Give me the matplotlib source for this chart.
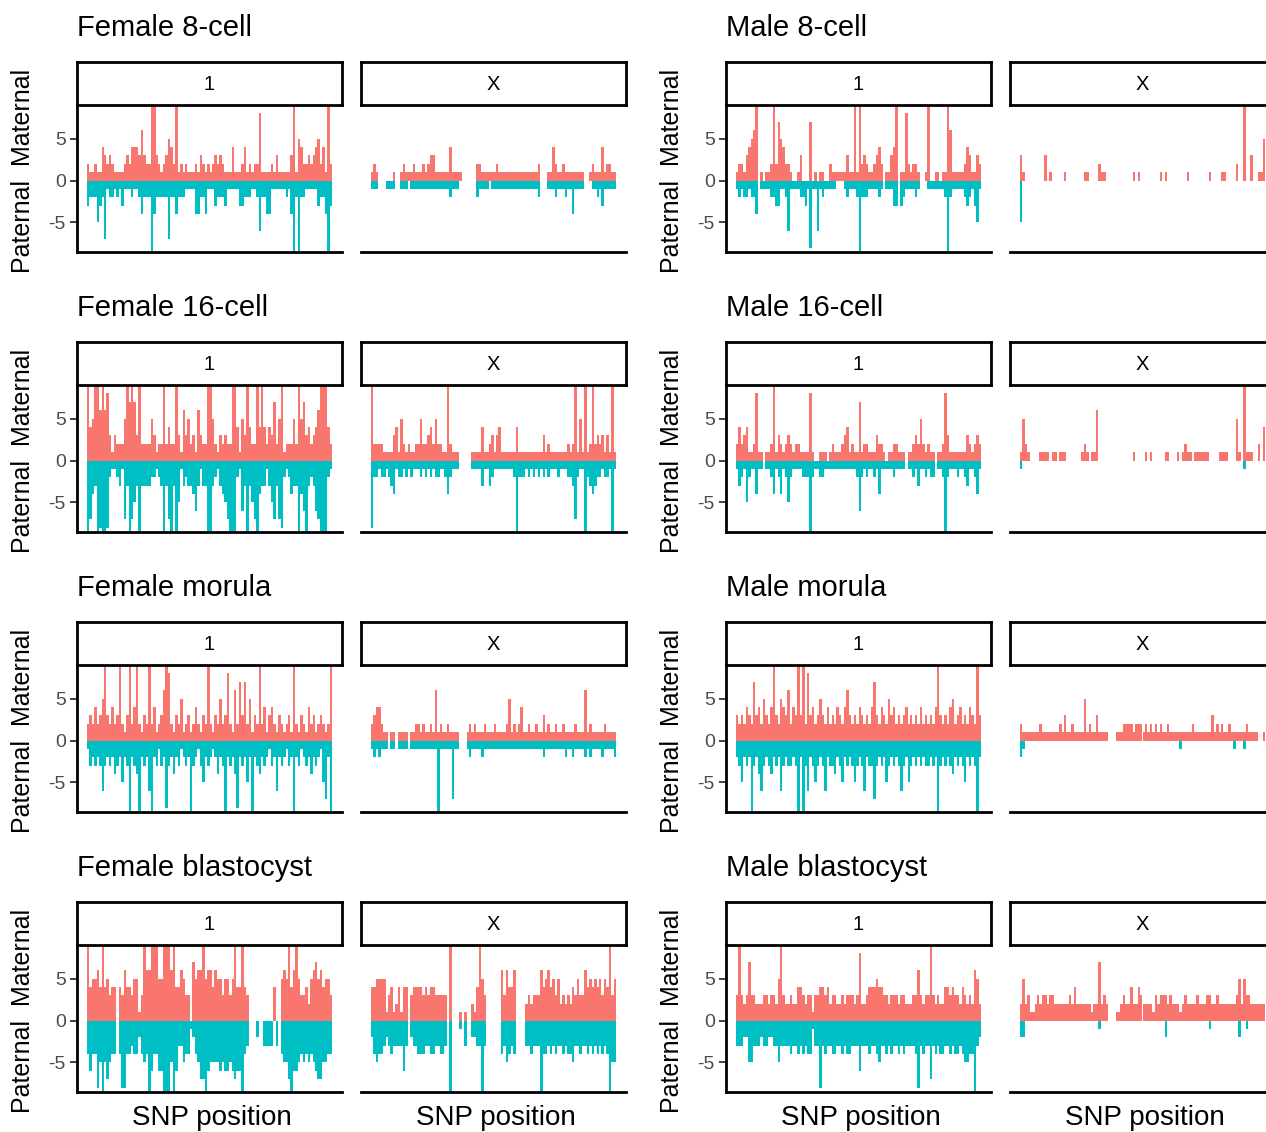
import matplotlib
matplotlib.use("Agg")
import matplotlib.pyplot as plt
import numpy as np

plt.rcParams['font.family'] = ['Liberation Sans', 'DejaVu Sans']

# ---------------- data (counts per SNP bin; 9 = off-scale) ----------------
f8_chr1_mat = [2,1,1,2,1,1,4,3,2,3, 2,1,1,1,1,2,3,2,4,4, 4,3,6,3,2,2,9,9,3,2, 1,2,3,5,4,2,9,1,2,1,
               2,1,1,1,2,1,3,2,1,2, 1,2,3,2,3,2,1,1,1,4, 1,1,1,2,4,1,2,1,2,2, 8,1,1,1,1,2,1,3,1,1,
               1,1,1,3,9,1,5,4,2,2, 3,2,3,4,5,2,4,1,9,2]
f8_chr1_pat = [3,2,2,2,5,3,2,7,1,2, 2,1,2,1,3,1,1,1,2,1, 1,2,4,2,2,2,9,4,2,2, 2,2,2,7,2,2,4,2,2,2,
               1,1,1,1,4,4,2,2,4,1, 1,1,3,2,2,2,3,1,1,1, 1,1,3,3,2,2,2,1,1,2, 6,2,2,4,4,1,1,1,1,1,
               1,2,1,4,9,2,9,2,2,1, 1,1,1,1,3,2,2,4,9,3]
f8_x_mat = [1,2,1,0,0,0,0,0,0,1, 0,0,1,2,1,1,1,2,1,1, 1,2,1,2,3,3,1,1,1,1, 1,1,4,1,1,1,1,0,0,0,
            0,0,0,2,2,1,1,1,1,1, 1,2,1,1,1,1,1,1,1,1, 1,1,1,1,1,1,1,1,2,0, 0,0,1,1,4,2,1,1,2,1,
            1,1,1,1,1,1,1,0,0,1, 2,1,1,1,4,1,2,2,1,1]
f8_x_pat = [1,1,1,0,0,0,1,1,1,1, 0,0,1,1,1,0,1,1,1,1, 1,1,1,1,1,1,1,1,1,1, 1,1,2,1,1,1,0,0,0,0,
            0,0,0,2,1,1,1,1,0,1, 1,1,1,1,1,1,1,1,1,1, 1,1,1,1,1,1,1,1,2,0, 0,0,1,1,1,2,1,1,1,2,
            1,1,4,1,1,1,1,0,0,0, 1,1,2,1,3,1,1,1,1,1]

m8_chr1_mat = [1,2,2,1,3,4,5,6,9,0, 1,0,1,1,2,9,2,7,5,4, 2,2,1,0,0,1,3,0,0,0, 7,0,1,0,1,1,0,0,2,1,
               1,1,1,1,1,3,1,1,9,1, 9,2,3,2,1,1,2,3,4,2, 0,1,1,3,4,9,0,1,1,8, 2,1,2,2,1,0,0,1,9,0,
               0,1,1,0,1,1,9,6,1,1, 1,1,1,2,4,3,1,1,3,2]
m8_chr1_pat = [1,2,1,2,2,1,2,2,4,0, 1,1,1,1,2,2,3,3,1,1, 2,6,1,1,1,1,2,2,3,1, 8,1,1,6,1,2,1,1,1,1,
               1,0,0,0,1,2,1,1,1,2, 9,2,2,2,1,1,1,1,2,1, 0,1,1,1,3,3,0,3,2,1, 1,1,1,2,1,0,0,0,1,1,
               1,1,1,1,1,2,9,2,1,1, 1,1,1,2,3,2,1,3,5,1]
m8_x_mat = [3,1,0,0,0,0,0,0,0,0, 3,0,1,0,0,0,0,0,1,0, 0,0,0,0,0,0,1,1,0,0, 0,0,2,1,1,0,0,0,0,0,
            0,0,0,0,0,0,1,0,1,0, 0,0,0,0,0,0,0,1,0,1, 0,0,0,0,0,0,0,0,1,0, 0,0,0,0,0,0,0,1,0,0,
            0,0,1,1,0,0,0,0,2,0, 0,9,0,0,3,0,0,1,1,5]
m8_x_pat = [5,0,0,0,0,0,0,0,0,0, 0,0,0,0,0,0,0,0,0,0, 0,0,0,0,0,0,0,0,0,0, 0,0,0,0,0,0,0,0,0,0,
            0,0,0,0,0,0,0,0,0,0, 0,0,0,0,0,0,0,0,0,0, 0,0,0,0,0,0,0,0,0,0, 0,0,0,0,0,0,0,0,0,0,
            0,0,0,0,0,0,0,0,0,0, 0,0,0,0,0,0,0,0,0,0]

f16_chr1_mat = [9,4,5,9,9,6,9,6,8,3, 1,3,2,2,2,5,9,7,9,7, 3,9,2,2,2,2,5,3,1,2, 2,9,2,4,2,2,9,3,1,6,
                3,5,2,3,1,6,3,2,2,9, 9,5,2,1,3,2,3,2,2,9, 9,4,1,5,3,9,4,2,2,9, 4,9,4,2,4,3,7,2,5,9,
                1,2,2,2,5,2,9,5,7,3, 4,2,3,4,6,9,9,9,4,2]
f16_chr1_pat = [9,7,4,3,9,8,9,9,8,2, 1,1,2,3,1,7,3,9,7,5, 3,9,3,3,3,3,2,2,1,2, 3,9,3,7,9,3,9,5,1,3,
                2,3,3,4,6,3,1,3,3,9, 9,3,2,1,3,4,5,7,9,9, 9,2,1,6,3,9,3,5,7,9, 4,3,3,1,3,5,7,3,7,8,
                2,1,2,4,3,3,9,4,6,9, 3,2,3,6,7,9,9,9,2,1]
f16_x_mat = [9,2,2,2,2,1,1,1,1,3, 4,1,5,2,1,2,1,1,2,2, 5,2,2,3,4,2,5,2,2,1, 1,9,2,1,1,1,0,0,0,0,
             0,1,1,1,1,4,1,1,2,3, 1,3,4,1,1,1,1,1,1,4, 1,1,1,1,1,1,1,1,1,1, 3,1,2,1,1,1,1,1,1,1,
             2,1,2,9,1,5,1,9,1,2, 9,2,3,2,3,1,3,1,9,1]
f16_x_pat = [8,2,2,1,2,2,1,2,3,4, 1,2,2,1,2,1,2,1,1,1, 2,1,2,1,2,1,2,2,1,1, 2,4,2,1,1,1,0,0,0,0,
             0,1,1,1,1,3,1,1,3,2, 1,1,1,1,1,1,1,1,2,9, 2,2,2,1,2,1,2,1,2,1, 2,1,2,1,1,1,2,1,1,1,
             2,2,3,7,2,1,1,9,2,3, 4,3,2,2,1,2,2,1,9,1]

m16_chr1_mat = [2,4,2,3,4,1,1,2,8,1, 1,0,1,1,2,9,1,3,2,1, 2,3,2,1,2,2,1,1,1,1, 8,1,0,0,1,1,1,0,1,2,
                1,1,1,2,3,4,1,2,1,1, 7,1,2,2,1,1,1,3,2,2, 1,0,1,1,2,2,1,1,1,0, 1,1,2,3,2,5,2,1,2,1,
                1,0,1,1,2,8,3,1,1,1, 1,1,1,1,3,2,1,2,3,2]
m16_chr1_pat = [1,3,2,1,5,2,1,1,4,1, 1,0,1,1,2,4,1,2,4,1, 2,5,2,1,1,1,1,2,2,2, 9,2,1,1,2,2,1,1,1,1,
                1,1,1,1,1,1,1,1,1,2, 6,2,1,2,1,1,2,1,4,1, 1,1,1,1,2,1,1,1,1,0, 1,1,2,1,3,1,1,2,1,2,
                2,0,1,1,2,9,2,1,1,1, 2,1,1,2,3,1,1,2,4,1]
m16_x_mat = [1,5,2,1,0,0,0,0,1,1, 1,1,0,1,1,0,1,1,1,0, 0,0,0,0,0,1,2,1,0,1, 1,6,0,0,0,0,0,0,0,0,
             0,0,0,0,0,0,1,0,0,0, 0,1,0,1,0,0,0,0,0,1, 1,0,0,0,1,0,1,2,1,1, 0,1,1,1,1,1,1,0,0,0,
             0,1,1,1,1,0,0,0,5,1, 0,9,1,1,1,0,0,2,0,4]
m16_x_pat = [1,0,0,0,0,0,0,0,0,0, 0,0,0,0,0,0,0,0,0,0, 0,0,0,0,0,0,0,0,0,0, 0,0,0,0,0,0,0,0,0,0,
             0,0,0,0,0,0,0,0,0,0, 0,0,0,0,0,0,0,0,0,0, 0,0,0,0,0,0,0,0,0,0, 0,0,0,0,0,0,0,0,0,0,
             0,0,0,0,0,0,0,0,0,0, 0,1,0,0,0,0,0,0,0,0]

fmor_chr1_mat = [2,3,2,4,2,3,5,9,3,2, 4,2,3,9,2,1,3,9,2,4, 9,2,1,3,2,9,2,4,1,2, 3,6,9,8,2,1,3,2,5,1,
                 2,3,1,2,4,2,1,3,2,9, 2,1,3,2,5,2,3,8,2,1, 6,2,7,3,7,2,5,1,3,2, 9,2,4,1,3,4,2,1,3,2,
                 1,2,3,1,9,2,1,3,2,1, 4,2,3,1,2,3,2,1,2,9]
fmor_chr1_pat = [1,3,2,3,2,3,6,3,2,3, 2,4,3,2,5,2,3,9,2,3, 4,9,2,3,2,6,9,2,3,1, 3,2,8,3,2,4,2,3,1,2,
                 3,2,9,3,2,1,3,5,2,3, 2,1,2,4,2,3,9,2,3,2, 4,8,2,3,2,5,2,9,2,3, 4,2,3,2,1,3,2,6,2,3,
                 2,1,3,2,9,2,3,1,2,3, 2,4,2,3,2,1,5,7,2,9]
fmor_x_mat = [2,3,4,4,2,1,1,0,1,1, 0,1,1,1,1,0,1,1,2,2, 1,2,1,1,2,1,6,1,2,1, 1,2,1,1,1,1,0,0,0,1,
              2,1,2,1,1,1,2,1,1,1, 2,1,1,1,1,2,5,1,2,1, 2,4,1,1,2,1,1,2,1,1, 3,1,2,1,1,2,1,1,2,1,
              1,1,1,2,1,1,1,6,1,2, 1,1,1,1,1,2,1,1,1,1]
fmor_x_pat = [1,2,1,2,1,1,1,0,1,1, 0,1,1,1,1,0,1,1,1,1, 1,1,1,1,1,1,1,9,1,1, 1,1,1,7,1,1,0,0,0,1,
              2,1,1,1,1,2,1,1,1,1, 1,1,1,1,1,1,1,1,1,1, 1,1,1,1,1,1,1,1,1,1, 2,1,1,1,1,1,1,1,1,2,
              1,1,2,1,1,1,1,2,1,2, 1,1,1,1,2,1,1,1,1,2]

mmor_chr1_mat = [3,2,3,2,4,3,2,7,3,4, 2,5,3,2,4,9,3,2,5,4, 3,6,2,4,3,9,3,9,2,8, 3,4,2,3,5,3,2,4,2,3,
                 2,4,3,2,4,6,3,2,3,2, 4,3,2,3,2,4,7,3,2,4, 3,2,5,3,4,2,3,2,3,4, 2,3,2,3,2,4,2,3,2,3,
                 2,4,9,3,2,3,2,4,5,2, 3,4,2,3,2,4,3,2,9,3]
mmor_chr1_pat = [2,3,5,2,3,2,9,3,2,4, 6,3,2,3,4,2,3,2,6,3, 2,3,3,2,3,9,2,9,3,6, 2,3,5,3,2,3,6,2,3,3,
                 4,2,3,5,2,3,2,3,5,3, 2,3,6,2,3,3,7,3,2,3, 2,5,3,2,3,2,3,6,3,2, 5,3,2,3,2,3,2,3,3,2,
                 3,2,9,3,2,3,2,3,4,2, 3,2,3,5,2,3,2,3,9,2]
mmor_x_mat = [2,1,1,1,1,1,1,1,2,1, 1,1,1,1,1,1,2,1,3,1, 1,2,1,1,1,1,5,1,2,1, 1,3,1,1,1,1,0,0,0,1,
              1,1,2,2,2,2,1,2,2,2, 1,2,1,2,1,2,1,2,1,1, 2,1,1,1,1,1,1,1,1,1, 2,1,1,1,1,1,1,1,3,1,
              2,1,2,1,1,2,1,1,1,1, 1,1,2,1,1,1,1,0,0,1]
mmor_x_pat = [2,1,0,0,0,0,0,0,0,0, 0,0,0,0,0,0,0,0,0,0, 0,0,0,0,0,0,0,0,0,0, 0,0,0,0,0,0,0,0,0,0,
              0,0,0,0,0,0,0,0,0,0, 0,0,0,0,0,0,0,0,0,0, 0,0,0,0,0,1,0,0,0,0, 0,0,0,0,0,0,0,0,0,0,
              0,0,0,0,0,0,0,1,0,0, 0,1,0,0,0,0,0,0,0,0]

fbl_chr1_mat = [9,4,5,5,6,4,9,4,5,3, 4,4,0,4,3,6,4,4,3,5, 5,1,3,9,6,6,9,9,9,5, 5,9,9,9,6,9,4,4,6,5,
                3,3,0,7,5,6,6,9,5,6, 6,4,6,5,5,3,5,5,3,5, 9,4,4,9,4,3,0,0,0,0, 0,0,0,0,0,0,4,0,0,5,
                6,5,9,4,6,9,5,3,3,4, 2,5,6,7,5,6,4,5,5,3]
fbl_chr1_pat = [4,6,4,4,8,5,9,5,7,5, 4,4,0,4,8,8,4,4,3,4, 4,2,4,5,4,9,6,4,4,6, 6,9,9,9,5,9,6,3,3,5,
                4,4,1,2,4,5,7,7,9,6, 5,5,5,5,6,5,6,6,5,6, 7,6,6,9,4,3,0,0,0,2, 0,0,3,3,3,3,0,3,0,4,
                5,5,7,9,6,6,5,4,5,4, 5,4,5,6,7,7,5,5,4,4]
fbl_x_mat = [4,4,5,5,5,5,1,3,4,1, 2,4,1,4,4,0,3,4,4,4, 4,3,4,3,4,4,3,3,3,3, 3,0,9,0,0,0,1,0,1,0,
             0,2,1,4,9,5,3,0,0,0, 0,0,0,6,3,6,4,4,6,0, 0,0,0,2,3,2,3,3,3,6, 4,5,6,4,5,3,5,2,3,2,
             3,2,4,3,5,3,3,6,4,5, 4,5,4,5,3,5,4,9,3,5]
fbl_x_pat = [2,4,5,4,4,3,2,3,4,3, 3,3,3,6,3,0,2,3,3,4, 4,4,3,3,4,4,3,3,4,4, 3,0,9,0,0,0,1,0,3,0,
             0,2,2,3,3,9,3,0,0,0, 0,0,0,4,3,5,4,3,4,0, 0,0,0,3,3,4,3,3,3,9, 4,4,3,4,3,4,3,3,4,3,
             4,4,5,3,3,4,3,3,4,3, 4,3,4,3,4,3,4,9,5,5]

mbl_chr1_mat = [3,9,3,2,3,7,3,3,2,2, 2,3,3,2,3,3,2,5,9,3, 2,2,3,2,2,4,4,3,2,3, 3,1,3,3,4,4,3,4,2,3,
                3,2,2,3,2,3,3,3,2,3, 8,2,2,3,4,4,4,5,4,4, 3,3,2,3,3,3,2,3,3,2, 2,2,3,3,6,3,2,3,3,9,
                3,2,3,2,2,4,4,3,4,3, 3,2,4,3,2,3,2,6,5,2]
mbl_chr1_pat = [3,3,3,2,2,5,5,3,3,3, 2,3,3,2,2,3,3,5,3,3, 3,3,4,3,3,4,3,4,3,4, 4,1,3,3,8,3,4,3,3,4,
                4,3,3,4,3,4,4,3,3,3, 6,3,3,3,4,3,3,4,5,3, 3,4,3,4,3,3,4,3,4,3, 3,3,3,4,8,3,4,3,3,7,
                3,4,3,4,4,3,3,4,3,4, 4,3,4,5,5,4,4,9,3,2]
mbl_x_mat = [2,5,2,3,1,1,2,3,2,3, 3,2,3,3,2,2,2,2,2,2, 3,2,4,2,2,2,2,2,2,1, 2,2,7,2,3,2,0,0,0,1,
             1,2,3,2,2,4,2,2,4,3, 2,2,2,2,1,3,2,3,3,3, 2,3,2,2,2,1,2,3,2,2, 2,2,3,2,2,2,3,3,2,2,
             3,2,2,2,2,2,2,2,3,5, 2,5,3,3,2,2,2,2,2,2]
mbl_x_pat = [2,2,0,0,0,0,0,0,0,0, 0,0,0,0,0,0,0,0,0,0, 0,0,0,0,0,0,0,0,0,0, 0,0,1,0,0,0,0,0,0,0,
             0,0,0,0,0,0,0,0,0,0, 0,0,0,0,0,0,0,0,0,2, 0,0,0,0,0,0,0,0,0,0, 0,0,0,0,0,0,0,1,0,0,
             0,0,0,0,0,0,0,0,0,2, 0,0,1,0,0,0,0,0,0,0]

titles = ["Female 8-cell", "Male 8-cell", "Female 16-cell", "Male 16-cell",
          "Female morula", "Male morula", "Female blastocyst", "Male blastocyst"]
facet_labels = ["1", "X"]
y_ticks = [-5, 0, 5]
y_label = "Paternal  Maternal"
x_label = "SNP position"

panel_data = [
    (f8_chr1_mat, f8_chr1_pat, f8_x_mat, f8_x_pat),
    (m8_chr1_mat, m8_chr1_pat, m8_x_mat, m8_x_pat),
    (f16_chr1_mat, f16_chr1_pat, f16_x_mat, f16_x_pat),
    (m16_chr1_mat, m16_chr1_pat, m16_x_mat, m16_x_pat),
    (fmor_chr1_mat, fmor_chr1_pat, fmor_x_mat, fmor_x_pat),
    (mmor_chr1_mat, mmor_chr1_pat, mmor_x_mat, mmor_x_pat),
    (fbl_chr1_mat, fbl_chr1_pat, fbl_x_mat, fbl_x_pat),
    (mbl_chr1_mat, mbl_chr1_pat, mbl_x_mat, mbl_x_pat),
]

# ---------------- drawing ----------------
MAT = "#F8766D"
PAT = "#00BFC4"
W, H = 1266, 1132
fig = plt.figure(figsize=(W / 100, H / 100), dpi=100)
fig.patch.set_facecolor("white")


def rect(x0, y_top, w, h):
    return [x0 / W, 1 - (y_top + h) / H, w / W, h / H]


col_x = [77, 726]
facet_dx = [0, 284]
facet_w = 265
row_step = 280

for i, (title, data) in enumerate(zip(titles, panel_data)):
    row, col = divmod(i, 2)
    y0 = row * row_step
    strip_top = 62 + y0
    strip_bot = 105 + y0
    panel_bot = 252 + y0
    fig.text(col_x[col] / W, 1 - (28 + y0) / H, title, ha="left", va="center",
             fontsize=21, color="black")
    fig.text((col_x[col] - 54) / W, 1 - (171 + y0) / H, y_label, rotation=90,
             ha="center", va="center", fontsize=18, color="black")
    for k in range(2):
        mat = np.array(data[2 * k])
        pat = np.array(data[2 * k + 1])
        x0 = col_x[col] + facet_dx[k]
        ax = fig.add_axes(rect(x0, strip_bot, facet_w, panel_bot - strip_bot))
        pos = np.arange(len(mat))
        ax.bar(pos, mat, width=1.0, color=MAT, linewidth=0)
        ax.bar(pos, -pat, width=1.0, color=PAT, linewidth=0)
        ax.set_xlim(-4.5, len(mat) + 3.5)
        ax.set_ylim(-8.52, 9.0)
        ax.set_xticks([])
        for s in ["top", "right"]:
            ax.spines[s].set_visible(False)
        ax.spines["bottom"].set_linewidth(2.0)
        if k == 0:
            ax.spines["left"].set_linewidth(2.0)
            ax.set_yticks(y_ticks)
            ax.set_yticklabels([str(t) for t in y_ticks])
            ax.tick_params(axis="y", length=5, width=1.3, color="#333333",
                           labelsize=14, labelcolor="#4D4D4D", pad=3)
        else:
            ax.spines["left"].set_visible(False)
            ax.set_yticks([])
        ax.patch.set_alpha(0)
        # strip
        sax = fig.add_axes(rect(x0, strip_top, facet_w, strip_bot - strip_top))
        sax.set_xticks([])
        sax.set_yticks([])
        for s in sax.spines.values():
            s.set_linewidth(2.0)
            s.set_color("black")
        sax.text(0.5, 0.47, facet_labels[k], ha="center", va="center",
                 fontsize=14.5, transform=sax.transAxes)
        if row == 3:
            fig.text((x0 + facet_w / 2 + 2) / W, 1 - 1118 / H, x_label, ha="center",
                     va="center", fontsize=20)

fig.savefig("out.png", dpi=100, facecolor="white")
